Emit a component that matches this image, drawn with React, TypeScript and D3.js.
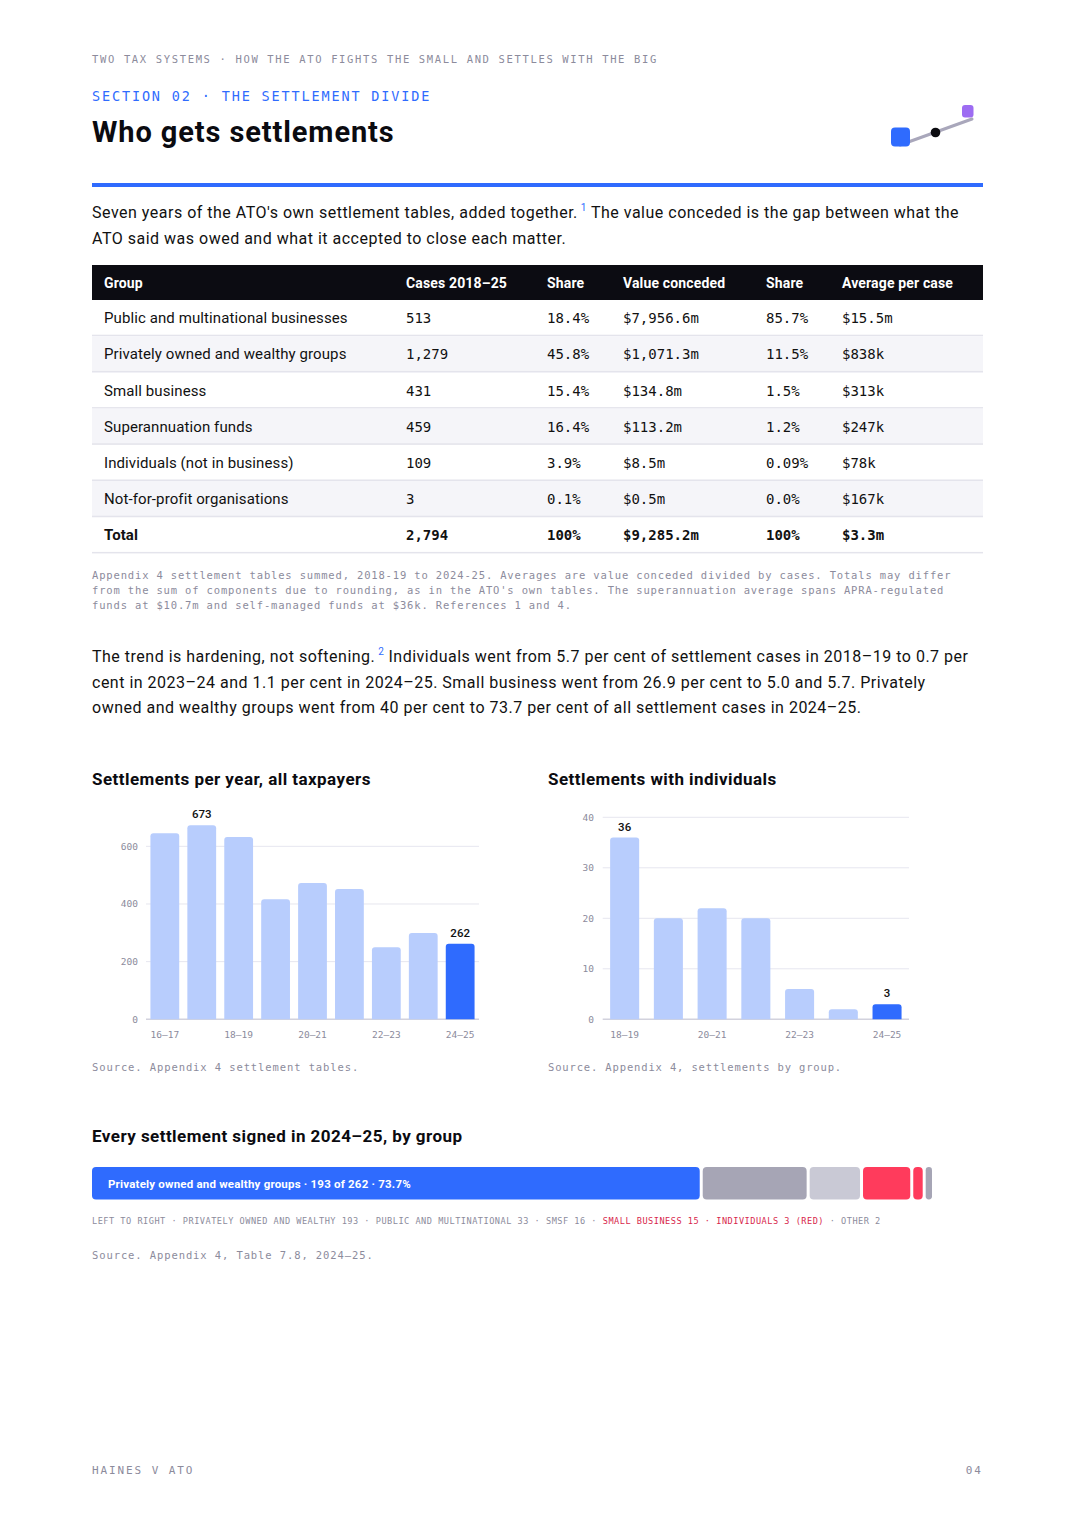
import * as d3 from "d3";

// ---- data ----
const tableGroups = [
  "Public and multinational businesses",
  "Privately owned and wealthy groups",
  "Small business",
  "Superannuation funds",
  "Individuals (not in business)",
  "Not-for-profit organisations",
];
const tableCases = ["513", "1,279", "431", "459", "109", "3"];
const tableCaseShare = ["18.4%", "45.8%", "15.4%", "16.4%", "3.9%", "0.1%"];
const tableValue = ["$7,956.6m", "$1,071.3m", "$134.8m", "$113.2m", "$8.5m", "$0.5m"];
const tableValueShare = ["85.7%", "11.5%", "1.5%", "1.2%", "0.09%", "0.0%"];
const tableAverage = ["$15.5m", "$838k", "$313k", "$247k", "$78k", "$167k"];
const tableTotal = ["Total", "2,794", "100%", "$9,285.2m", "100%", "$3.3m"];
const tableHeaders = ["Group", "Cases 2018–25", "Share", "Value conceded", "Share", "Average per case"];

const yearsAll = ["16–17", "17–18", "18–19", "19–20", "20–21", "21–22", "22–23", "23–24", "24–25"];
const settlementsAll = [645, 673, 632, 416, 473, 452, 250, 299, 262];
const ticksAll = [0, 200, 400, 600];

const yearsInd = ["18–19", "19–20", "20–21", "21–22", "22–23", "23–24", "24–25"];
const settlementsInd = [36, 20, 22, 20, 6, 2, 3];
const ticksInd = [0, 10, 20, 30, 40];

const stackLabels = ["PRIVATELY OWNED AND WEALTHY", "PUBLIC AND MULTINATIONAL", "SMSF", "SMALL BUSINESS", "INDIVIDUALS", "OTHER"];
const stackCounts = [193, 33, 16, 15, 3, 2];
const stackRed = [false, false, false, true, true, false];

// ---- style ----
const SANS = "Roboto, 'Noto Sans', sans-serif";
const MONO = "'DejaVu Sans Mono', 'Liberation Mono', monospace";
const BLUE = "#2f6bfe";
const LIGHT_BLUE = "#b8cdfd";
const GRAY_TEXT = "#8c8b9c";
const GRID = "#e6e6ef";
const RED = "#ff3b5c";
const RED_TEXT = "#d81f4c";
const stackColors = [BLUE, "#a6a5b5", "#c9c9d5", RED, RED, "#a6a5b5"];

const colX = [104, 406, 547, 623, 766, 842];
const BODY_LS = 0.5;
const H3_LS = 0.45;

function topRounded(x: number, y: number, w: number, h: number, r: number) {
  const rr = Math.min(r, h, w / 2);
  return `M${x},${y + h}V${y + rr}Q${x},${y} ${x + rr},${y}H${x + w - rr}Q${x + w},${y} ${x + w},${y + rr}V${y + h}Z`;
}

function BarChart({
  cats, values, ticks, max, x0, x1, yBase, yTop, padIn, padOut, labelEvery, labelIdx, labelX,
}: {
  cats: string[]; values: number[]; ticks: number[]; max: number; x0: number; x1: number;
  yBase: number; yTop: number; padIn: number; padOut: number; labelEvery: number; labelIdx: number[]; labelX: number;
}) {
  const x = d3.scaleBand<string>().domain(cats).range([x0, x1]).paddingInner(padIn).paddingOuter(padOut);
  const y = d3.scaleLinear().domain([0, max]).range([yBase, yTop]);
  const last = cats.length - 1;
  return (
    <g>
      {ticks.map((t) => (
        <g key={t}>
          <line x1={x0} x2={x1} y1={y(t)} y2={y(t)} stroke={t === 0 ? "#d2d2dd" : GRID} strokeWidth={t === 0 ? 1.5 : 1} />
          <text x={labelX} y={y(t) + 3.5} textAnchor="end" fontFamily={MONO} fontSize={9.5} fill={GRAY_TEXT}>{t}</text>
        </g>
      ))}
      {cats.map((c, i) => {
        const bx = x(c) || 0;
        const by = y(values[i]);
        return (
          <path key={c} d={topRounded(bx, by, x.bandwidth(), yBase - by, 3)} fill={i === last ? BLUE : LIGHT_BLUE} />
        );
      })}
      {labelIdx.map((i) => (
        <text key={"v" + i} x={(x(cats[i]) || 0) + x.bandwidth() / 2} y={y(values[i]) - 7} textAnchor="middle"
          fontFamily={SANS} fontSize={11.5} fontWeight={500} fill="#111">{values[i]}</text>
      ))}
      {cats.map((c, i) => (i % labelEvery === 0 ? (
        <text key={"x" + c} x={(x(c) || 0) + x.bandwidth() / 2} y={yBase + 19} textAnchor="middle"
          fontFamily={MONO} fontSize={9.5} fill={GRAY_TEXT}>{c}</text>
      ) : null))}
    </g>
  );
}

export default function App() {
  const rowTop = 300;
  const rowH = 36.2;
  const stackTotal = d3.sum(stackCounts);
  const gap = 3;
  const stackW = d3.scaleLinear().domain([0, stackTotal]).range([0, 840 - gap * (stackCounts.length - 1)]);
  let acc = 92;
  const segs = stackCounts.map((v, i) => {
    const s = { x: acc, w: stackW(v), color: stackColors[i] };
    acc += stackW(v) + gap;
    return s;
  });

  const allRows = [...tableGroups.map((g, i) => [g, tableCases[i], tableCaseShare[i], tableValue[i], tableValueShare[i], tableAverage[i]]), tableTotal];

  return (
    <svg width={1075} height={1521} style={{ position: "absolute", left: 0, top: 0, background: "#fff" }}>
      <rect width={1075} height={1521} fill="#fff" />
      {/* header */}
      <text x={92} y={63} fontFamily={MONO} fontSize={10.5} letterSpacing={1.65} fill={GRAY_TEXT}>
        TWO TAX SYSTEMS · HOW THE ATO FIGHTS THE SMALL AND SETTLES WITH THE BIG
      </text>
      <text x={92} y={101} fontFamily={MONO} fontSize={13.5} letterSpacing={1.85} fill={BLUE} fontWeight={500}>
        SECTION 02 · THE SETTLEMENT DIVIDE
      </text>
      <text x={92} y={142} fontFamily={SANS} fontSize={29} letterSpacing={0.9} fontWeight={700} fill="#0b0b10">Who gets settlements</text>

      {/* icon */}
      <line x1={900} y1={145} x2={972} y2={119} stroke="#a9a7bb" strokeWidth={3} strokeLinecap="round" />
      <rect x={891} y={127.5} width={19} height={19} rx={4} fill={BLUE} />
      <circle cx={935.5} cy={132.5} r={4.8} fill="#0b0b10" />
      <rect x={962} y={105} width={11.5} height={12.5} rx={3} fill="#9d6cf2" />

      <rect x={92} y={183} width={891} height={4} fill={BLUE} />

      {/* intro paragraph */}
      <text x={92} y={218} fontFamily={SANS} fontSize={16} letterSpacing={BODY_LS} fill="#111">
        Seven years of the ATO's own settlement tables, added together.
        <tspan dx={3} dy={-7} fontSize={10} fill={BLUE}>1</tspan>
        <tspan dx={4} dy={7}>The value conceded is the gap between what the</tspan>
      </text>
      <text x={92} y={244} fontFamily={SANS} fontSize={16} letterSpacing={BODY_LS} fill="#111">
        ATO said was owed and what it accepted to close each matter.
      </text>

      {/* table */}
      <rect x={92} y={265} width={891} height={35} fill="#0c0c12" />
      {tableHeaders.map((h, i) => (
        <text key={h + i} x={colX[i]} y={288} fontFamily={SANS} fontSize={14} letterSpacing={0.15} fontWeight={700} fill="#fff">{h}</text>
      ))}
      {allRows.map((r, ri) => {
        const top = rowTop + ri * rowH;
        const isTotal = ri === allRows.length - 1;
        return (
          <g key={ri}>
            {ri % 2 === 1 && !isTotal ? <rect x={92} y={top} width={891} height={rowH} fill="#f5f5f9" /> : null}
            <rect x={92} y={top + rowH - 1.5} width={891} height={1.5} fill="#e4e4ec" />
            {r.map((cell, ci) => (
              <text key={ci} x={colX[ci]} y={top + rowH / 2 + 5}
                fontFamily={ci === 0 ? SANS : MONO}
                fontSize={ci === 0 ? 15 : 14}
                letterSpacing={ci === 0 ? 0.1 : 0}
                fontWeight={isTotal ? 700 : 400}
                fill="#111">{cell}</text>
            ))}
          </g>
        );
      })}
      {[
        "Appendix 4 settlement tables summed, 2018-19 to 2024-25. Averages are value conceded divided by cases. Totals may differ",
        "from the sum of components due to rounding, as in the ATO's own tables. The superannuation average spans APRA-regulated",
        "funds at $10.7m and self-managed funds at $36k. References 1 and 4.",
      ].map((l, i) => (
        <text key={i} x={92} y={579 + i * 15} fontFamily={MONO} fontSize={10.5} letterSpacing={0.84} fill={GRAY_TEXT}>{l}</text>
      ))}

      {/* second paragraph */}
      <text x={92} y={662} fontFamily={SANS} fontSize={16} letterSpacing={BODY_LS} fill="#111">
        The trend is hardening, not softening.
        <tspan dx={3} dy={-7} fontSize={10} fill={BLUE}>2</tspan>
        <tspan dx={4} dy={7}>Individuals went from 5.7 per cent of settlement cases in 2018–19 to 0.7 per</tspan>
      </text>
      <text x={92} y={688} fontFamily={SANS} fontSize={16} letterSpacing={BODY_LS} fill="#111">
        cent in 2023–24 and 1.1 per cent in 2024–25. Small business went from 26.9 per cent to 5.0 and 5.7. Privately
      </text>
      <text x={92} y={713} fontFamily={SANS} fontSize={16} letterSpacing={BODY_LS} fill="#111">
        owned and wealthy groups went from 40 per cent to 73.7 per cent of all settlement cases in 2024–25.
      </text>

      {/* charts */}
      <text x={92} y={785} fontFamily={SANS} fontSize={17} letterSpacing={H3_LS} fontWeight={700} fill="#0b0b10">Settlements per year, all taxpayers</text>
      <BarChart cats={yearsAll} values={settlementsAll} ticks={ticksAll} max={700} x0={146} x1={479}
        yBase={1019.3} yTop={1019.3 - 700 * 0.2883} padIn={0.22} padOut={0.12} labelEvery={2}
        labelIdx={[1, yearsAll.length - 1]} labelX={138} />
      <text x={92} y={1071} fontFamily={MONO} fontSize={10.5} letterSpacing={0.9} fill={GRAY_TEXT}>Source. Appendix 4 settlement tables.</text>

      <text x={548} y={785} fontFamily={SANS} fontSize={17} letterSpacing={H3_LS} fontWeight={700} fill="#0b0b10">Settlements with individuals</text>
      <BarChart cats={yearsInd} values={settlementsInd} ticks={ticksInd} max={40} x0={602.7} x1={909}
        yBase={1019.3} yTop={817.3} padIn={0.336} padOut={0.17} labelEvery={2}
        labelIdx={[0, yearsInd.length - 1]} labelX={594} />
      <text x={548} y={1071} fontFamily={MONO} fontSize={10.5} letterSpacing={0.85} fill={GRAY_TEXT}>Source. Appendix 4, settlements by group.</text>

      {/* stacked bar */}
      <text x={92} y={1142} fontFamily={SANS} fontSize={17} letterSpacing={H3_LS} fontWeight={700} fill="#0b0b10">Every settlement signed in 2024–25, by group</text>
      {segs.map((s, i) => (
        <rect key={i} x={s.x} y={1167} width={s.w} height={32.5} rx={Math.min(4, s.w / 2)} fill={s.color} />
      ))}
      <text x={108} y={1187.5} fontFamily={SANS} fontSize={11.5} letterSpacing={0.2} fontWeight={700} fill="#fff">
        {`Privately owned and wealthy groups · ${stackCounts[0]} of ${stackTotal} · ${((stackCounts[0] / stackTotal) * 100).toFixed(1)}%`}
      </text>
      <text x={92} y={1224} fontFamily={MONO} fontSize={8.6} letterSpacing={0.5} fill={GRAY_TEXT}>
        LEFT TO RIGHT
        {stackLabels.map((l, i) => (
          <tspan key={i} fill={stackRed[i] && i > 0 && stackRed[i - 1] ? RED_TEXT : GRAY_TEXT}>
            {" · "}
            <tspan fill={stackRed[i] ? RED_TEXT : GRAY_TEXT}>{`${l} ${stackCounts[i]}${l === "INDIVIDUALS" ? " (RED)" : ""}`}</tspan>
          </tspan>
        ))}
      </text>
      <text x={92} y={1259} fontFamily={MONO} fontSize={10.5} letterSpacing={0.9} fill={GRAY_TEXT}>Source. Appendix 4, Table 7.8, 2024–25.</text>

      {/* footer */}
      <text x={92} y={1474} fontFamily={MONO} fontSize={11} letterSpacing={1.9} fill={GRAY_TEXT}>HAINES V ATO</text>
      <text x={983} y={1474} textAnchor="end" fontFamily={MONO} fontSize={11} letterSpacing={2} fill={GRAY_TEXT}>04</text>
    </svg>
  );
}
